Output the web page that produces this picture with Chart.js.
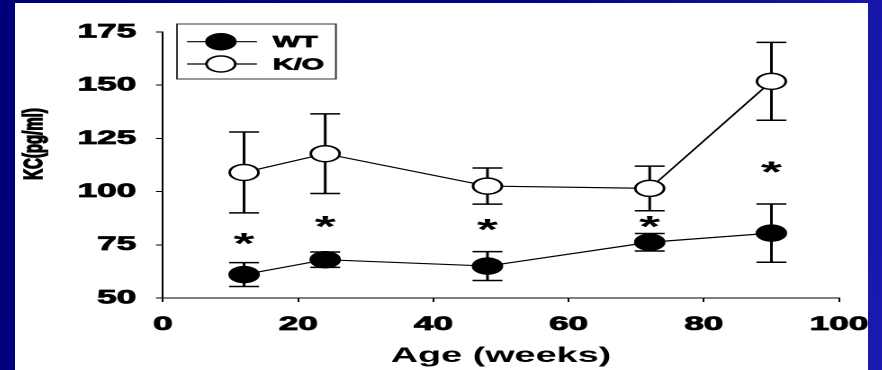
<!DOCTYPE html>
<html>
<head>
<meta charset="utf-8">
<script src="https://cdn.jsdelivr.net/npm/chart.js@4"></script>
<style>
  html, body { margin:0; padding:0; width:882px; height:370px; overflow:hidden;
    background: linear-gradient(100deg, #00007a 0%, #05058a 60%, #1a1ab0 100%); }
  #c { position:absolute; left:15px; top:3px; width:474px; height:367px;
    transform: scaleX(1.8); transform-origin: 0 0; background:#fff; }
</style>
</head>
<body>
<canvas id="c" width="474" height="367"></canvas>
<script>
// ---- data ----
const ages     = [12, 24, 48, 72, 90];
const wtMean   = [61, 68, 65, 76.2, 80.5];
const wtErr    = [5.6, 3.6, 6.8, 4.1, 13.7];
const koMean   = [109, 117.8, 102.6, 101.5, 151.8];
const koErr    = [19, 18.7, 8.5, 10.5, 18.3];
const starY    = [79, 86.8, 85.5, 86.8, 112.4];
const seriesNames = ['WT', 'K/O'];
const xTicks = [0, 20, 40, 60, 80, 100];
const yTicks = [50, 75, 100, 125, 150, 175];

const FONT = "'Liberation Sans', Arial, sans-serif";

const errorBars = {
  id: 'errorBars',
  beforeDatasetsDraw(chart) {
    const {ctx, scales: {x, y}} = chart;
    ctx.save();
    ctx.strokeStyle = '#000';
    ctx.lineWidth = 1.5;
    const cap = 8.3;
    chart.data.datasets.forEach(ds => {
      ds.data.forEach(p => {
        const px = x.getPixelForValue(p.x);
        const t = y.getPixelForValue(p.y + p.err);
        const b = y.getPixelForValue(p.y - p.err);
        ctx.beginPath();
        ctx.moveTo(px, t); ctx.lineTo(px, b);
        ctx.moveTo(px - cap, t); ctx.lineTo(px + cap, t);
        ctx.moveTo(px - cap, b); ctx.lineTo(px + cap, b);
        ctx.stroke();
      });
    });
    ctx.restore();
  }
};

const extras = {
  id: 'extras',
  afterDraw(chart) {
    const {ctx, scales: {x, y}} = chart;
    ctx.save();
    ctx.fillStyle = '#000';
    ctx.strokeStyle = '#000';
    // significance asterisks
    ctx.font = 'bold 30px ' + FONT;
    ctx.textAlign = 'center';
    ctx.textBaseline = 'alphabetic';
    ages.forEach((a, i) => {
      ctx.fillText('*', x.getPixelForValue(a), y.getPixelForValue(starY[i]) + 17);
    });
    // y axis title
    ctx.save();
    ctx.translate(11, 141);
    ctx.rotate(-Math.PI / 2);
    ctx.font = 'bold 15px ' + FONT;
    ctx.textAlign = 'center';
    ctx.textBaseline = 'middle';
    ctx.lineWidth = 0.9;
    ctx.strokeText('KC(pg/ml)', 0, 0);
    ctx.fillText('KC(pg/ml)', 0, 0);
    ctx.restore();
    // legend
    ctx.strokeStyle = '#333';
    ctx.lineWidth = 1;
    ctx.strokeRect(90, 21, 88.3, 55);
    const rows = [38.7, 61];
    chart.data.datasets.forEach((ds, i) => {
      const ry = rows[i];
      ctx.strokeStyle = '#000';
      ctx.lineWidth = 1.2;
      ctx.beginPath(); ctx.moveTo(95.6, ry); ctx.lineTo(134.4, ry); ctx.stroke();
      ctx.beginPath(); ctx.arc(114.4, ry, 8, 0, Math.PI * 2);
      ctx.fillStyle = ds.backgroundColor; ctx.fill();
      ctx.lineWidth = 1.5; ctx.stroke();
      ctx.fillStyle = '#000';
      ctx.font = 'bold 16px ' + FONT;
      ctx.textAlign = 'left';
      ctx.textBaseline = 'middle';
      ctx.lineWidth = 0.7;
      ctx.strokeText(ds.label, 143.3, ry + 1);
      ctx.fillText(ds.label, 143.3, ry + 1);
    });
    ctx.restore();
  }
};

const mk = (means, errs) => ages.map((a, i) => ({x: a, y: means[i], err: errs[i]}));
const tickFont = { family: FONT, size: 19.5, weight: 'bold' };

new Chart(document.getElementById('c'), {
  type: 'line',
  data: {
    datasets: [
      { label: seriesNames[0], data: mk(wtMean, wtErr), borderColor: '#000', backgroundColor: '#000',
        pointBackgroundColor: '#000', pointBorderColor: '#000', borderWidth: 1.2, pointRadius: 8,
        pointBorderWidth: 1.5, pointHoverRadius: 8, tension: 0 },
      { label: seriesNames[1], data: mk(koMean, koErr), borderColor: '#000', backgroundColor: '#fff',
        pointBackgroundColor: '#fff', pointBorderColor: '#000', borderWidth: 1.2, pointRadius: 8,
        pointBorderWidth: 1.5, pointHoverRadius: 8, tension: 0 }
    ]
  },
  options: {
    responsive: false,
    devicePixelRatio: 2,
    animation: false,
    events: [],
    layout: { padding: { left: 0, top: 29, right: 16.2, bottom: 0 } },
    plugins: { legend: { display: false }, tooltip: { enabled: false } },
    scales: {
      x: {
        type: 'linear', min: 0, max: 100,
        afterBuildTicks: s => { s.ticks = xTicks.map(v => ({value: v})); },
        afterFit: s => { s.height = 72; s.paddingLeft = 0; s.paddingRight = 0; },
        grid: { drawOnChartArea: false, drawTicks: true, tickLength: 4, color: '#000' },
        border: { display: true, color: '#000', width: 1 },
        ticks: { color: '#000', padding: 11, font: tickFont, maxRotation: 0,
          textStrokeColor: '#000', textStrokeWidth: 0.8 },
        title: { display: true, text: 'Age (weeks)', color: '#000', padding: { top: 0, bottom: 1.4 },
          font: { family: FONT, size: 21, weight: 'bold' } }
      },
      y: {
        type: 'linear', min: 50, max: 175,
        afterBuildTicks: s => { s.ticks = yTicks.map(v => ({value: v})); },
        afterFit: s => { s.width = 82.2; s.paddingTop = 0; s.paddingBottom = 0; },
        grid: { drawOnChartArea: false, drawTicks: true, tickLength: 3.9, color: '#000' },
        border: { display: true, color: '#000', width: 1 },
        ticks: { color: '#000', padding: 11, font: tickFont,
          textStrokeColor: '#000', textStrokeWidth: 0.8 }
      }
    }
  },
  plugins: [errorBars, extras]
});
</script>
</body>
</html>
